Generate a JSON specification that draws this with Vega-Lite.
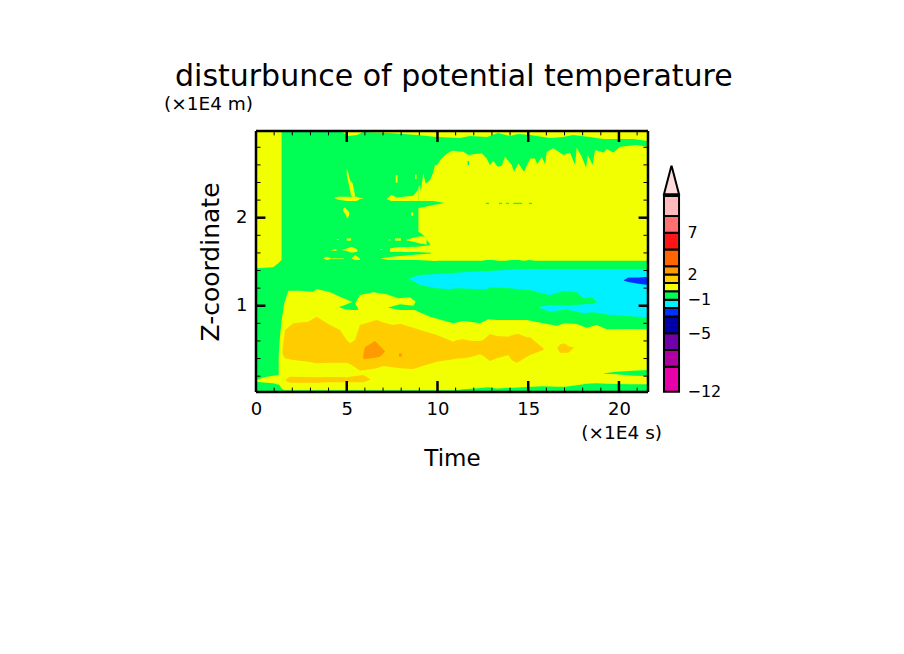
{
  "$schema": "https://vega.github.io/schema/vega-lite/v6.json",
  "autosize": "none",
  "width": 392,
  "height": 261,
  "padding": {"left": 256, "top": 131, "right": 256, "bottom": 262},
  "background": "white",
  "config": {
    "view": {"stroke": null},
    "font": "DejaVu Sans",
    "axis": {"grid": false, "ticks": false, "domain": false, "labelFont": "DejaVu Sans", "titleFont": "DejaVu Sans", "labelColor": "black", "titleColor": "black", "titleFontWeight": "normal"}
  },
  "title": {"text": "disturbunce of potential temperature", "anchor": "start", "dx": 11, "offset": 3, "fontSize": 30, "fontWeight": "normal", "font": "DejaVu Sans", "color": "black"},
  "datasets": {
    "regions": [
      {"id":"bg","level":-1,"x":0,"z0":0.02,"z1":2.985},{"id":"bg","level":-1,"x":21.6,"z0":0.02,"z1":2.985},
      {"id":"strip","level":0,"x":0,"z0":1.425,"z1":2.985},{"id":"strip","level":0,"x":0.95,"z0":1.437,"z1":2.985},{"id":"strip","level":0,"x":1.23,"z0":1.482,"z1":2.985},{"id":"strip","level":0,"x":1.41,"z0":1.52,"z1":2.985},
      {"id":"top","level":0,"x":4.74,"z0":2.977,"z1":2.985},{"id":"top","level":0,"x":5.07,"z0":2.928,"z1":2.985},{"id":"top","level":0,"x":5.57,"z0":2.94,"z1":2.985},{"id":"top","level":0,"x":5.9,"z0":2.974,"z1":2.985},{"id":"top","level":0,"x":7.38,"z0":2.962,"z1":2.985},{"id":"top","level":0,"x":8.87,"z0":2.94,"z1":2.985},{"id":"top","level":0,"x":9.97,"z0":2.917,"z1":2.985},{"id":"top","level":0,"x":11.24,"z0":2.906,"z1":2.985},{"id":"top","level":0,"x":11.79,"z0":2.928,"z1":2.985},{"id":"top","level":0,"x":12.73,"z0":2.917,"z1":2.985},{"id":"top","level":0,"x":13.33,"z0":2.962,"z1":2.985},{"id":"top","level":0,"x":14.0,"z0":2.928,"z1":2.985},{"id":"top","level":0,"x":14.44,"z0":2.951,"z1":2.985},{"id":"top","level":0,"x":15.1,"z0":2.94,"z1":2.985},{"id":"top","level":0,"x":16.2,"z0":2.906,"z1":2.985},{"id":"top","level":0,"x":16.92,"z0":2.917,"z1":2.985},{"id":"top","level":0,"x":17.47,"z0":2.94,"z1":2.985},{"id":"top","level":0,"x":18.4,"z0":2.917,"z1":2.985},{"id":"top","level":0,"x":19.12,"z0":2.894,"z1":2.985},{"id":"top","level":0,"x":20.77,"z0":2.894,"z1":2.985},{"id":"top","level":0,"x":21.6,"z0":2.871,"z1":2.985},
      {"id":"block","level":0,"x":8.95,"z0":1.841,"z1":2.352},{"id":"block","level":0,"x":9.04,"z0":1.83,"z1":2.371},{"id":"block","level":0,"x":9.08,"z0":1.825,"z1":2.295},{"id":"block","level":0,"x":9.22,"z0":1.8,"z1":2.504},{"id":"block","level":0,"x":9.35,"z0":1.77,"z1":2.39},{"id":"block","level":0,"x":9.5,"z0":1.72,"z1":2.41},{"id":"block","level":0,"x":9.59,"z0":1.7,"z1":2.428},{"id":"block","level":0,"x":9.68,"z0":1.51,"z1":2.47},{"id":"block","level":0,"x":9.77,"z0":1.51,"z1":2.523},{"id":"block","level":0,"x":9.86,"z0":1.51,"z1":2.598},{"id":"block","level":0,"x":9.96,"z0":1.51,"z1":2.598},{"id":"block","level":0,"x":10.23,"z0":1.51,"z1":2.674},{"id":"block","level":0,"x":10.42,"z0":1.51,"z1":2.712},{"id":"block","level":0,"x":10.69,"z0":1.51,"z1":2.75},{"id":"block","level":0,"x":10.87,"z0":1.51,"z1":2.761},{"id":"block","level":0,"x":11.42,"z0":1.51,"z1":2.75},{"id":"block","level":0,"x":11.7,"z0":1.51,"z1":2.712},{"id":"block","level":0,"x":11.98,"z0":1.51,"z1":2.72},{"id":"block","level":0,"x":12.44,"z0":1.51,"z1":2.731},{"id":"block","level":0,"x":12.71,"z0":1.52,"z1":2.674},{"id":"block","level":0,"x":12.89,"z0":1.52,"z1":2.598},{"id":"block","level":0,"x":13.08,"z0":1.52,"z1":2.644},{"id":"block","level":0,"x":13.32,"z0":1.51,"z1":2.58},{"id":"block","level":0,"x":13.54,"z0":1.51,"z1":2.591},{"id":"block","level":0,"x":13.72,"z0":1.51,"z1":2.693},{"id":"block","level":0,"x":14.09,"z0":1.52,"z1":2.598},{"id":"block","level":0,"x":14.22,"z0":1.52,"z1":2.523},{"id":"block","level":0,"x":14.46,"z0":1.52,"z1":2.617},{"id":"block","level":0,"x":14.77,"z0":1.51,"z1":2.523},{"id":"block","level":0,"x":15.1,"z0":1.52,"z1":2.674},{"id":"block","level":0,"x":15.37,"z0":1.51,"z1":2.674},{"id":"block","level":0,"x":15.5,"z0":1.51,"z1":2.606},{"id":"block","level":0,"x":15.74,"z0":1.51,"z1":2.693},{"id":"block","level":0,"x":15.93,"z0":1.51,"z1":2.61},{"id":"block","level":0,"x":16.02,"z0":1.51,"z1":2.75},{"id":"block","level":0,"x":16.38,"z0":1.51,"z1":2.788},{"id":"block","level":0,"x":16.94,"z0":1.51,"z1":2.712},{"id":"block","level":0,"x":17.3,"z0":1.51,"z1":2.742},{"id":"block","level":0,"x":17.58,"z0":1.51,"z1":2.598},{"id":"block","level":0,"x":17.67,"z0":1.51,"z1":2.795},{"id":"block","level":0,"x":17.95,"z0":1.51,"z1":2.693},{"id":"block","level":0,"x":18.19,"z0":1.51,"z1":2.568},{"id":"block","level":0,"x":18.28,"z0":1.51,"z1":2.712},{"id":"block","level":0,"x":18.55,"z0":1.51,"z1":2.598},{"id":"block","level":0,"x":18.68,"z0":1.51,"z1":2.769},{"id":"block","level":0,"x":19.14,"z0":1.51,"z1":2.742},{"id":"block","level":0,"x":19.32,"z0":1.51,"z1":2.78},{"id":"block","level":0,"x":19.69,"z0":1.51,"z1":2.742},{"id":"block","level":0,"x":20.06,"z0":1.51,"z1":2.807},{"id":"block","level":0,"x":20.98,"z0":1.51,"z1":2.826},{"id":"block","level":0,"x":21.6,"z0":1.51,"z1":2.807},
      {"id":"notch","level":-1,"x":8.85,"z0":2.106,"z1":2.189},{"id":"notch","level":-1,"x":9.77,"z0":2.144,"z1":2.189},{"id":"notch","level":-1,"x":10.32,"z0":2.163,"z1":2.17},
      {"id":"ribbon2","level":0,"x":7.2,"z0":2.21,"z1":2.216},{"id":"ribbon2","level":0,"x":7.46,"z0":2.189,"z1":2.26},{"id":"ribbon2","level":0,"x":7.75,"z0":2.189,"z1":2.23},{"id":"ribbon2","level":0,"x":8.67,"z0":2.189,"z1":2.25},{"id":"ribbon2","level":0,"x":8.95,"z0":2.189,"z1":2.33},
      {"id":"spike","level":0,"x":5.0,"z0":2.485,"z1":2.561},{"id":"spike","level":0,"x":5.09,"z0":2.401,"z1":2.504},{"id":"spike","level":0,"x":5.18,"z0":2.314,"z1":2.428},{"id":"spike","level":0,"x":5.24,"z0":2.25,"z1":2.409},{"id":"spike","level":0,"x":5.33,"z0":2.239,"z1":2.39},{"id":"spike","level":0,"x":5.46,"z0":2.239,"z1":2.25},
      {"id":"ribbon1","level":0,"x":4.3,"z0":2.223,"z1":2.227},{"id":"ribbon1","level":0,"x":4.54,"z0":2.205,"z1":2.239},{"id":"ribbon1","level":0,"x":5.0,"z0":2.189,"z1":2.239},{"id":"ribbon1","level":0,"x":5.55,"z0":2.189,"z1":2.239},{"id":"ribbon1","level":0,"x":5.73,"z0":2.212,"z1":2.223},{"id":"ribbon1","level":0,"x":5.91,"z0":2.218,"z1":2.222},
      {"id":"blob1","level":0,"x":4.81,"z0":2.076,"z1":2.106},{"id":"blob1","level":0,"x":4.9,"z0":2.049,"z1":2.117},{"id":"blob1","level":0,"x":5.03,"z0":1.992,"z1":2.087},{"id":"blob1","level":0,"x":5.14,"z0":2.03,"z1":2.061},
      {"id":"dot1","level":0,"x":4.45,"z0":1.746,"z1":1.758},{"id":"dot1","level":0,"x":4.57,"z0":1.746,"z1":1.758},
      {"id":"dot2","level":0,"x":5.0,"z0":1.739,"z1":1.765},{"id":"dot2","level":0,"x":5.24,"z0":1.739,"z1":1.765},
      {"id":"dot3","level":0,"x":7.29,"z0":1.742,"z1":1.754},{"id":"dot3","level":0,"x":7.42,"z0":1.742,"z1":1.754},
      {"id":"dot4","level":0,"x":7.66,"z0":1.739,"z1":1.765},{"id":"dot4","level":0,"x":7.99,"z0":1.739,"z1":1.765},
      {"id":"dot5","level":0,"x":6.83,"z0":1.636,"z1":1.644},{"id":"dot5","level":0,"x":6.98,"z0":1.636,"z1":1.644},
      {"id":"dot6","level":0,"x":7.7,"z0":2.398,"z1":2.485},{"id":"dot6","level":0,"x":7.8,"z0":2.398,"z1":2.485},
      {"id":"dot7","level":0,"x":8.76,"z0":2.44,"z1":2.49},{"id":"dot7","level":0,"x":8.85,"z0":2.44,"z1":2.49},
      {"id":"dot8","level":0,"x":8.54,"z0":2.023,"z1":2.06},{"id":"dot8","level":0,"x":8.67,"z0":2.023,"z1":2.06},
      {"id":"rib3","level":0,"x":8.25,"z0":1.744,"z1":1.748},{"id":"rib3","level":0,"x":8.67,"z0":1.727,"z1":1.773},{"id":"rib3","level":0,"x":9.04,"z0":1.708,"z1":1.788},{"id":"rib3","level":0,"x":9.4,"z0":1.697,"z1":1.784},
      {"id":"rib4","level":0,"x":7.38,"z0":1.614,"z1":1.651},{"id":"rib4","level":0,"x":7.75,"z0":1.61,"z1":1.663},{"id":"rib4","level":0,"x":8.85,"z0":1.61,"z1":1.67},{"id":"rib4","level":0,"x":9.7,"z0":1.602,"z1":1.689},
      {"id":"rib5","level":0,"x":6.89,"z0":1.534,"z1":1.538},{"id":"rib5","level":0,"x":7.38,"z0":1.519,"z1":1.553},{"id":"rib5","level":0,"x":8.85,"z0":1.519,"z1":1.583},{"id":"rib5","level":0,"x":9.96,"z0":1.508,"z1":1.595},
      {"id":"blob2","level":0,"x":4.72,"z0":1.633,"z1":1.64},{"id":"blob2","level":0,"x":5.0,"z0":1.621,"z1":1.651},{"id":"blob2","level":0,"x":5.27,"z0":1.602,"z1":1.67},{"id":"blob2","level":0,"x":5.55,"z0":1.614,"z1":1.644},{"id":"blob2","level":0,"x":5.6,"z0":1.625,"z1":1.629},
      {"id":"blob3","level":0,"x":4.17,"z0":1.628,"z1":1.632},{"id":"blob3","level":0,"x":4.4,"z0":1.621,"z1":1.644},{"id":"blob3","level":0,"x":4.45,"z0":1.628,"z1":1.634},
      {"id":"blob4","level":0,"x":3.71,"z0":1.536,"z1":1.54},{"id":"blob4","level":0,"x":3.9,"z0":1.519,"z1":1.557},{"id":"blob4","level":0,"x":4.13,"z0":1.53,"z1":1.54},
      {"id":"blob5","level":0,"x":4.17,"z0":1.53,"z1":1.538},{"id":"blob5","level":0,"x":4.85,"z0":1.53,"z1":1.538},
      {"id":"blob6","level":0,"x":5.27,"z0":1.536,"z1":1.54},{"id":"blob6","level":0,"x":5.46,"z0":1.519,"z1":1.576},{"id":"blob6","level":0,"x":5.73,"z0":1.519,"z1":1.534},
      {"id":"gdash0","level":-1,"x":11.66,"z0":2.598,"z1":2.644},{"id":"gdash0","level":-1,"x":11.74,"z0":2.598,"z1":2.644},
      {"id":"gdash1","level":-1,"x":12.67,"z0":2.155,"z1":2.17},{"id":"gdash1","level":-1,"x":12.84,"z0":2.155,"z1":2.17},
      {"id":"gdash2","level":-1,"x":13.39,"z0":2.155,"z1":2.17},{"id":"gdash2","level":-1,"x":13.56,"z0":2.155,"z1":2.17},
      {"id":"gdash3","level":-1,"x":13.78,"z0":2.155,"z1":2.17},{"id":"gdash3","level":-1,"x":13.94,"z0":2.155,"z1":2.17},
      {"id":"gdash4","level":-1,"x":14.18,"z0":2.155,"z1":2.17},{"id":"gdash4","level":-1,"x":14.66,"z0":2.155,"z1":2.17},
      {"id":"gdash5","level":-1,"x":15.04,"z0":2.155,"z1":2.17},{"id":"gdash5","level":-1,"x":15.21,"z0":2.155,"z1":2.17},
      {"id":"lowleft","level":0,"x":0,"z0":0.137,"z1":0.156},{"id":"lowleft","level":0,"x":0.59,"z0":0.126,"z1":0.194},{"id":"lowleft","level":0,"x":0.95,"z0":0.118,"z1":0.206},{"id":"lowleft","level":0,"x":1.3,"z0":0.1,"z1":0.213},
      {"id":"low","level":0,"x":1.25,"z0":0.118,"z1":0.42},{"id":"low","level":0,"x":1.29,"z0":0.1,"z1":0.573},{"id":"low","level":0,"x":1.41,"z0":0.06,"z1":0.838},{"id":"low","level":0,"x":1.56,"z0":0.04,"z1":1.028},{"id":"low","level":0,"x":1.78,"z0":0.04,"z1":1.171},{"id":"low","level":0,"x":2.42,"z0":0.04,"z1":1.171},{"id":"low","level":0,"x":3.16,"z0":0.04,"z1":1.16},{"id":"low","level":0,"x":3.34,"z0":0.04,"z1":1.19},{"id":"low","level":0,"x":4.08,"z0":0.04,"z1":1.153},{"id":"low","level":0,"x":4.63,"z0":0.04,"z1":1.103},{"id":"low","level":0,"x":5.27,"z0":0.04,"z1":1.046},{"id":"low","level":0,"x":5.4,"z0":0.04,"z1":0.952},{"id":"low","level":0,"x":5.46,"z0":0.04,"z1":1.028},{"id":"low","level":0,"x":5.73,"z0":0.04,"z1":1.122},{"id":"low","level":0,"x":6.47,"z0":0.04,"z1":1.153},{"id":"low","level":0,"x":7.2,"z0":0.04,"z1":1.13},{"id":"low","level":0,"x":7.84,"z0":0.04,"z1":1.084},{"id":"low","level":0,"x":8.49,"z0":0.04,"z1":1.096},{"id":"low","level":0,"x":8.8,"z0":0.04,"z1":1.046},{"id":"low","level":0,"x":8.85,"z0":0.04,"z1":0.94},{"id":"low","level":0,"x":9.59,"z0":0.04,"z1":0.876},{"id":"low","level":0,"x":10.87,"z0":0.04,"z1":0.8},{"id":"low","level":0,"x":11.24,"z0":0.045,"z1":0.819},{"id":"low","level":0,"x":11.42,"z0":0.05,"z1":0.827},{"id":"low","level":0,"x":11.98,"z0":0.06,"z1":0.812},{"id":"low","level":0,"x":12.34,"z0":0.066,"z1":0.8},{"id":"low","level":0,"x":12.8,"z0":0.073,"z1":0.846},{"id":"low","level":0,"x":13.26,"z0":0.06,"z1":0.838},{"id":"low","level":0,"x":14.92,"z0":0.078,"z1":0.838},{"id":"low","level":0,"x":15.83,"z0":0.085,"z1":0.8},{"id":"low","level":0,"x":16.57,"z0":0.08,"z1":0.774},{"id":"low","level":0,"x":17.03,"z0":0.08,"z1":0.8},{"id":"low","level":0,"x":17.67,"z0":0.096,"z1":0.793},{"id":"low","level":0,"x":18.22,"z0":0.115,"z1":0.751},{"id":"low","level":0,"x":18.77,"z0":0.118,"z1":0.781},{"id":"low","level":0,"x":19.32,"z0":0.115,"z1":0.732},{"id":"low","level":0,"x":20.61,"z0":0.107,"z1":0.736},{"id":"low","level":0,"x":21.6,"z0":0.107,"z1":0.732},
      {"id":"wedge1","level":-1,"x":4.59,"z0":0.983,"z1":0.987},{"id":"wedge1","level":-1,"x":4.9,"z0":0.959,"z1":1.009},{"id":"wedge1","level":-1,"x":5.27,"z0":0.952,"z1":1.039},{"id":"wedge1","level":-1,"x":5.4,"z0":0.952,"z1":1.046},{"id":"wedge1","level":-1,"x":5.51,"z0":0.952,"z1":1.009},{"id":"wedge1","level":-1,"x":5.64,"z0":0.955,"z1":0.96},
      {"id":"wedge2","level":-1,"x":7.29,"z0":0.976,"z1":0.98},{"id":"wedge2","level":-1,"x":7.94,"z0":0.952,"z1":1.016},{"id":"wedge2","level":-1,"x":8.67,"z0":0.952,"z1":1.001},{"id":"wedge2","level":-1,"x":8.8,"z0":0.95,"z1":1.046},{"id":"wedge2","level":-1,"x":8.86,"z0":0.94,"z1":1.05},
      {"id":"warm1","level":1,"x":1.47,"z0":0.45,"z1":0.52},{"id":"warm1","level":1,"x":1.6,"z0":0.403,"z1":0.725},{"id":"warm1","level":1,"x":2.06,"z0":0.384,"z1":0.8},{"id":"warm1","level":1,"x":2.88,"z0":0.365,"z1":0.819},{"id":"warm1","level":1,"x":3.34,"z0":0.346,"z1":0.876},{"id":"warm1","level":1,"x":4.08,"z0":0.353,"z1":0.781},{"id":"warm1","level":1,"x":4.63,"z0":0.353,"z1":0.725},{"id":"warm1","level":1,"x":5.0,"z0":0.353,"z1":0.611},{"id":"warm1","level":1,"x":5.18,"z0":0.338,"z1":0.573},{"id":"warm1","level":1,"x":5.46,"z0":0.3,"z1":0.611},{"id":"warm1","level":1,"x":5.73,"z0":0.262,"z1":0.781},{"id":"warm1","level":1,"x":6.65,"z0":0.289,"z1":0.838},{"id":"warm1","level":1,"x":7.02,"z0":0.315,"z1":0.81},{"id":"warm1","level":1,"x":7.57,"z0":0.3,"z1":0.781},{"id":"warm1","level":1,"x":7.94,"z0":0.289,"z1":0.796},{"id":"warm1","level":1,"x":8.67,"z0":0.281,"z1":0.751},{"id":"warm1","level":1,"x":9.04,"z0":0.308,"z1":0.725},{"id":"warm1","level":1,"x":9.96,"z0":0.365,"z1":0.668},{"id":"warm1","level":1,"x":10.87,"z0":0.391,"z1":0.592},{"id":"warm1","level":1,"x":11.06,"z0":0.4,"z1":0.611},{"id":"warm1","level":1,"x":11.42,"z0":0.403,"z1":0.618},{"id":"warm1","level":1,"x":11.79,"z0":0.414,"z1":0.603},{"id":"warm1","level":1,"x":12.34,"z0":0.448,"z1":0.6},{"id":"warm1","level":1,"x":12.53,"z0":0.43,"z1":0.611},{"id":"warm1","level":1,"x":12.89,"z0":0.372,"z1":0.679},{"id":"warm1","level":1,"x":13.26,"z0":0.403,"z1":0.656},{"id":"warm1","level":1,"x":13.9,"z0":0.44,"z1":0.649},{"id":"warm1","level":1,"x":14.09,"z0":0.384,"z1":0.664},{"id":"warm1","level":1,"x":14.36,"z0":0.353,"z1":0.679},{"id":"warm1","level":1,"x":14.46,"z0":0.36,"z1":0.679},{"id":"warm1","level":1,"x":14.92,"z0":0.421,"z1":0.641},{"id":"warm1","level":1,"x":15.1,"z0":0.44,"z1":0.641},{"id":"warm1","level":1,"x":15.83,"z0":0.497,"z1":0.516},{"id":"warm1","level":1,"x":15.85,"z0":0.503,"z1":0.507},
      {"id":"warm2","level":1,"x":1.65,"z0":0.149,"z1":0.164},{"id":"warm2","level":1,"x":1.87,"z0":0.126,"z1":0.194},{"id":"warm2","level":1,"x":3.34,"z0":0.126,"z1":0.187},{"id":"warm2","level":1,"x":4.08,"z0":0.13,"z1":0.19},{"id":"warm2","level":1,"x":5.0,"z0":0.13,"z1":0.187},{"id":"warm2","level":1,"x":5.91,"z0":0.13,"z1":0.213},{"id":"warm2","level":1,"x":6.28,"z0":0.16,"z1":0.168},
      {"id":"warm3","level":1,"x":16.6,"z0":0.518,"z1":0.522},{"id":"warm3","level":1,"x":16.75,"z0":0.467,"z1":0.56},{"id":"warm3","level":1,"x":16.94,"z0":0.467,"z1":0.573},{"id":"warm3","level":1,"x":17.12,"z0":0.467,"z1":0.56},{"id":"warm3","level":1,"x":17.21,"z0":0.467,"z1":0.54},{"id":"warm3","level":1,"x":17.49,"z0":0.52,"z1":0.528},
      {"id":"hot1","level":2,"x":5.91,"z0":0.395,"z1":0.44},{"id":"hot1","level":2,"x":6.0,"z0":0.395,"z1":0.528},{"id":"hot1","level":2,"x":6.56,"z0":0.41,"z1":0.6},{"id":"hot1","level":2,"x":6.83,"z0":0.421,"z1":0.543},{"id":"hot1","level":2,"x":7.11,"z0":0.476,"z1":0.48},
      {"id":"hot2","level":2,"x":7.88,"z0":0.421,"z1":0.459},{"id":"hot2","level":2,"x":8.03,"z0":0.421,"z1":0.459},
      {"id":"cool","level":-2,"x":8.45,"z0":1.304,"z1":1.312},{"id":"cool","level":-2,"x":9.04,"z0":1.236,"z1":1.35},{"id":"cool","level":-2,"x":9.96,"z0":1.198,"z1":1.36},{"id":"cool","level":-2,"x":10.69,"z0":1.187,"z1":1.368},{"id":"cool","level":-2,"x":11.06,"z0":1.198,"z1":1.375},{"id":"cool","level":-2,"x":11.42,"z0":1.195,"z1":1.38},{"id":"cool","level":-2,"x":12.71,"z0":1.187,"z1":1.395},{"id":"cool","level":-2,"x":12.89,"z0":1.209,"z1":1.395},{"id":"cool","level":-2,"x":14.0,"z0":1.198,"z1":1.41},{"id":"cool","level":-2,"x":14.92,"z0":1.18,"z1":1.416},{"id":"cool","level":-2,"x":15.1,"z0":1.179,"z1":1.416},{"id":"cool","level":-2,"x":15.5,"z0":1.155,"z1":1.416},{"id":"cool","level":-2,"x":15.54,"z0":0.982,"z1":1.416},{"id":"cool","level":-2,"x":16.2,"z0":0.933,"z1":1.416},{"id":"cool","level":-2,"x":17.12,"z0":0.96,"z1":1.416},{"id":"cool","level":-2,"x":18.04,"z0":0.914,"z1":1.417},{"id":"cool","level":-2,"x":18.59,"z0":0.925,"z1":1.417},{"id":"cool","level":-2,"x":19.51,"z0":0.895,"z1":1.417},{"id":"cool","level":-2,"x":21.6,"z0":0.868,"z1":1.418},
      {"id":"lobe","level":-1,"x":15.5,"z0":0.982,"z1":1.155},{"id":"lobe","level":-1,"x":16.2,"z0":1.009,"z1":1.118},{"id":"lobe","level":-1,"x":16.94,"z0":1.001,"z1":1.168},{"id":"lobe","level":-1,"x":17.67,"z0":1.009,"z1":1.153},{"id":"lobe","level":-1,"x":18.04,"z0":1.016,"z1":1.084},{"id":"lobe","level":-1,"x":18.5,"z0":1.02,"z1":1.096},{"id":"lobe","level":-1,"x":18.77,"z0":1.038,"z1":1.042},
      {"id":"cold","level":-3,"x":20.28,"z0":1.285,"z1":1.293},{"id":"cold","level":-3,"x":20.52,"z0":1.27,"z1":1.32},{"id":"cold","level":-3,"x":21.07,"z0":1.25,"z1":1.32},{"id":"cold","level":-3,"x":21.6,"z0":1.236,"z1":1.33},
      {"id":"lowgreen","level":-1,"x":19.18,"z0":0.228,"z1":0.232},{"id":"lowgreen","level":-1,"x":19.87,"z0":0.221,"z1":0.251},{"id":"lowgreen","level":-1,"x":20.79,"z0":0.206,"z1":0.262},{"id":"lowgreen","level":-1,"x":21.6,"z0":0.202,"z1":0.27}
    ],
    "minorTicks": [
      {"x":1,"x2":1,"z":0.02,"z2":0.07},{"x":2,"x2":2,"z":0.02,"z2":0.07},{"x":3,"x2":3,"z":0.02,"z2":0.07},{"x":4,"x2":4,"z":0.02,"z2":0.07},{"x":6,"x2":6,"z":0.02,"z2":0.07},{"x":7,"x2":7,"z":0.02,"z2":0.07},{"x":8,"x2":8,"z":0.02,"z2":0.07},{"x":9,"x2":9,"z":0.02,"z2":0.07},{"x":11,"x2":11,"z":0.02,"z2":0.07},{"x":12,"x2":12,"z":0.02,"z2":0.07},{"x":13,"x2":13,"z":0.02,"z2":0.07},{"x":14,"x2":14,"z":0.02,"z2":0.07},{"x":16,"x2":16,"z":0.02,"z2":0.07},{"x":17,"x2":17,"z":0.02,"z2":0.07},{"x":18,"x2":18,"z":0.02,"z2":0.07},{"x":19,"x2":19,"z":0.02,"z2":0.07},{"x":21,"x2":21,"z":0.02,"z2":0.07},
      {"x":1,"x2":1,"z":2.985,"z2":2.935},{"x":2,"x2":2,"z":2.985,"z2":2.935},{"x":3,"x2":3,"z":2.985,"z2":2.935},{"x":4,"x2":4,"z":2.985,"z2":2.935},{"x":6,"x2":6,"z":2.985,"z2":2.935},{"x":7,"x2":7,"z":2.985,"z2":2.935},{"x":8,"x2":8,"z":2.985,"z2":2.935},{"x":9,"x2":9,"z":2.985,"z2":2.935},{"x":11,"x2":11,"z":2.985,"z2":2.935},{"x":12,"x2":12,"z":2.985,"z2":2.935},{"x":13,"x2":13,"z":2.985,"z2":2.935},{"x":14,"x2":14,"z":2.985,"z2":2.935},{"x":16,"x2":16,"z":2.985,"z2":2.935},{"x":17,"x2":17,"z":2.985,"z2":2.935},{"x":18,"x2":18,"z":2.985,"z2":2.935},{"x":19,"x2":19,"z":2.985,"z2":2.935},{"x":21,"x2":21,"z":2.985,"z2":2.935},
      {"x":0,"x2":0.25,"z":0.2,"z2":0.2},{"x":0,"x2":0.25,"z":0.4,"z2":0.4},{"x":0,"x2":0.25,"z":0.6,"z2":0.6},{"x":0,"x2":0.25,"z":0.8,"z2":0.8},{"x":0,"x2":0.25,"z":1.2,"z2":1.2},{"x":0,"x2":0.25,"z":1.4,"z2":1.4},{"x":0,"x2":0.25,"z":1.6,"z2":1.6},{"x":0,"x2":0.25,"z":1.8,"z2":1.8},{"x":0,"x2":0.25,"z":2.2,"z2":2.2},{"x":0,"x2":0.25,"z":2.4,"z2":2.4},{"x":0,"x2":0.25,"z":2.6,"z2":2.6},{"x":0,"x2":0.25,"z":2.8,"z2":2.8},
      {"x":21.6,"x2":21.35,"z":0.2,"z2":0.2},{"x":21.6,"x2":21.35,"z":0.4,"z2":0.4},{"x":21.6,"x2":21.35,"z":0.6,"z2":0.6},{"x":21.6,"x2":21.35,"z":0.8,"z2":0.8},{"x":21.6,"x2":21.35,"z":1.2,"z2":1.2},{"x":21.6,"x2":21.35,"z":1.4,"z2":1.4},{"x":21.6,"x2":21.35,"z":1.6,"z2":1.6},{"x":21.6,"x2":21.35,"z":1.8,"z2":1.8},{"x":21.6,"x2":21.35,"z":2.2,"z2":2.2},{"x":21.6,"x2":21.35,"z":2.4,"z2":2.4},{"x":21.6,"x2":21.35,"z":2.6,"z2":2.6},{"x":21.6,"x2":21.35,"z":2.8,"z2":2.8}
    ],
    "majorTicks": [
      {"x":5,"x2":5,"z":0.02,"z2":0.145},{"x":10,"x2":10,"z":0.02,"z2":0.145},{"x":15,"x2":15,"z":0.02,"z2":0.145},{"x":20,"x2":20,"z":0.02,"z2":0.145},
      {"x":5,"x2":5,"z":2.985,"z2":2.86},{"x":10,"x2":10,"z":2.985,"z2":2.86},{"x":15,"x2":15,"z":2.985,"z2":2.86},{"x":20,"x2":20,"z":2.985,"z2":2.86},
      {"x":0,"x2":0.52,"z":1,"z2":1},{"x":0,"x2":0.52,"z":2,"z2":2},{"x":21.6,"x2":21.08,"z":1,"z2":1},{"x":21.6,"x2":21.08,"z":2,"z2":2},
      {"x":0,"x2":21.6,"z":0.02,"z2":0.02},{"x":0,"x2":21.6,"z":2.985,"z2":2.985},{"x":0,"x2":0,"z":0.02,"z2":2.985},{"x":21.6,"x2":21.6,"z":0.02,"z2":2.985}
    ],
    "notes": [
      {"x":0,"z":2.985,"note":"(×1E4 m)","side":"left"},
      {"x":21.6,"z":0.02,"note":"(×1E4 s)","side":"right"}
    ],
    "bar": [
      {"low":-12,"high":-9,"level":-12},{"low":-9,"high":-7,"level":-9},{"low":-7,"high":-5,"level":-7},{"low":-5,"high":-3,"level":-5},{"low":-3,"high":-2,"level":-3},{"low":-2,"high":-1,"level":-2},{"low":-1,"high":0,"level":-1},{"low":0,"high":1,"level":0},{"low":1,"high":2,"level":1},{"low":2,"high":3,"level":2},{"low":3,"high":5,"level":3},{"low":5,"high":7,"level":5},{"low":7,"high":9,"level":7},{"low":9,"high":11.38,"level":9}
    ],
    "tip": [
      {"v":11.6,"left":22.48,"right":23.31},
      {"v":14.9,"left":22.88,"right":22.91}
    ]
  },
  "layer": [
    {
      "layer": [
        {
          "data": {"name": "regions"},
          "mark": {"type": "area", "clip": true},
          "encoding": {
            "x": {"field": "x", "type": "quantitative", "scale": {"domain": [0, 21.6], "nice": false, "zero": false}, "axis": {"values": [0, 5, 10, 15, 20], "title": "Time", "labelFontSize": 18, "labelPadding": 8, "titleFontSize": 23, "titlePadding": 29, "labelFlush": false}},
            "y": {"field": "z1", "type": "quantitative", "scale": {"domain": [0.02, 2.985], "nice": false, "zero": false}, "axis": {"values": [1, 2], "title": "Z-coordinate", "labelFontSize": 18, "labelPadding": 9, "titleFontSize": 25, "titlePadding": 12, "format": "d"}},
            "y2": {"field": "z0"},
            "detail": {"field": "id"},
            "color": {
              "field": "level", "type": "ordinal", "legend": null,
              "scale": {
                "domain": [-12, -9, -7, -5, -3, -2, -1, 0, 1, 2, 3, 5, 7, 9],
                "range": ["#e800a8", "#b000a0", "#7000a8", "#0000a8", "#0030ff", "#00f0ff", "#00ff55", "#f2ff00", "#ffcc00", "#ff9900", "#ff6600", "#ff1515", "#ff7070", "#ffbbbb"]
              }
            }
          }
        },
        {
          "data": {"name": "minorTicks"},
          "mark": {"type": "rule", "color": "black", "strokeWidth": 1},
          "encoding": {
            "x": {"field": "x", "type": "quantitative"},
            "x2": {"field": "x2"},
            "y": {"field": "z", "type": "quantitative"},
            "y2": {"field": "z2"}
          }
        },
        {
          "data": {"name": "majorTicks"},
          "mark": {"type": "rule", "color": "black", "strokeWidth": 2.5},
          "encoding": {
            "x": {"field": "x", "type": "quantitative"},
            "x2": {"field": "x2"},
            "y": {"field": "z", "type": "quantitative"},
            "y2": {"field": "z2"}
          }
        },
        {
          "data": {"name": "notes"},
          "transform": [{"filter": "datum.side == 'left'"}],
          "mark": {"type": "text", "align": "left", "baseline": "middle", "dx": -92, "dy": -27, "fontSize": 18.5, "font": "DejaVu Sans", "color": "black"},
          "encoding": {
            "x": {"field": "x", "type": "quantitative"},
            "y": {"field": "z", "type": "quantitative"},
            "text": {"field": "note"}
          }
        },
        {
          "data": {"name": "notes"},
          "transform": [{"filter": "datum.side == 'right'"}],
          "mark": {"type": "text", "align": "right", "baseline": "middle", "dx": 14, "dy": 41, "fontSize": 18.5, "font": "DejaVu Sans", "color": "black"},
          "encoding": {
            "x": {"field": "x", "type": "quantitative"},
            "y": {"field": "z", "type": "quantitative"},
            "text": {"field": "note"}
          }
        }
      ]
    },
    {
      "layer": [
        {
          "data": {"name": "tip"},
          "mark": {"type": "area", "orient": "horizontal", "color": "#ffdcdc", "stroke": "black", "strokeWidth": 2},
          "encoding": {
            "y": {"field": "v", "type": "quantitative", "scale": {"domain": [-12.03, 19.15], "nice": false, "zero": false}, "axis": {"orient": "right", "offset": 31, "values": [-12, -5, -1, 2, 7], "title": null, "labelFontSize": 16, "labelPadding": 8, "format": "d"}},
            "x": {"field": "left", "type": "quantitative"},
            "x2": {"field": "right"}
          }
        },
        {
          "data": {"name": "bar"},
          "mark": {"type": "rect", "stroke": "black", "strokeWidth": 2},
          "encoding": {
            "y": {"field": "low", "type": "quantitative"},
            "y2": {"field": "high"},
            "x": {"datum": 22.48},
            "x2": {"datum": 23.31},
            "color": {"field": "level", "type": "ordinal", "legend": null}
          }
        }
      ]
    }
  ],
  "resolve": {"scale": {"y": "independent"}, "axis": {"y": "independent"}}
}
